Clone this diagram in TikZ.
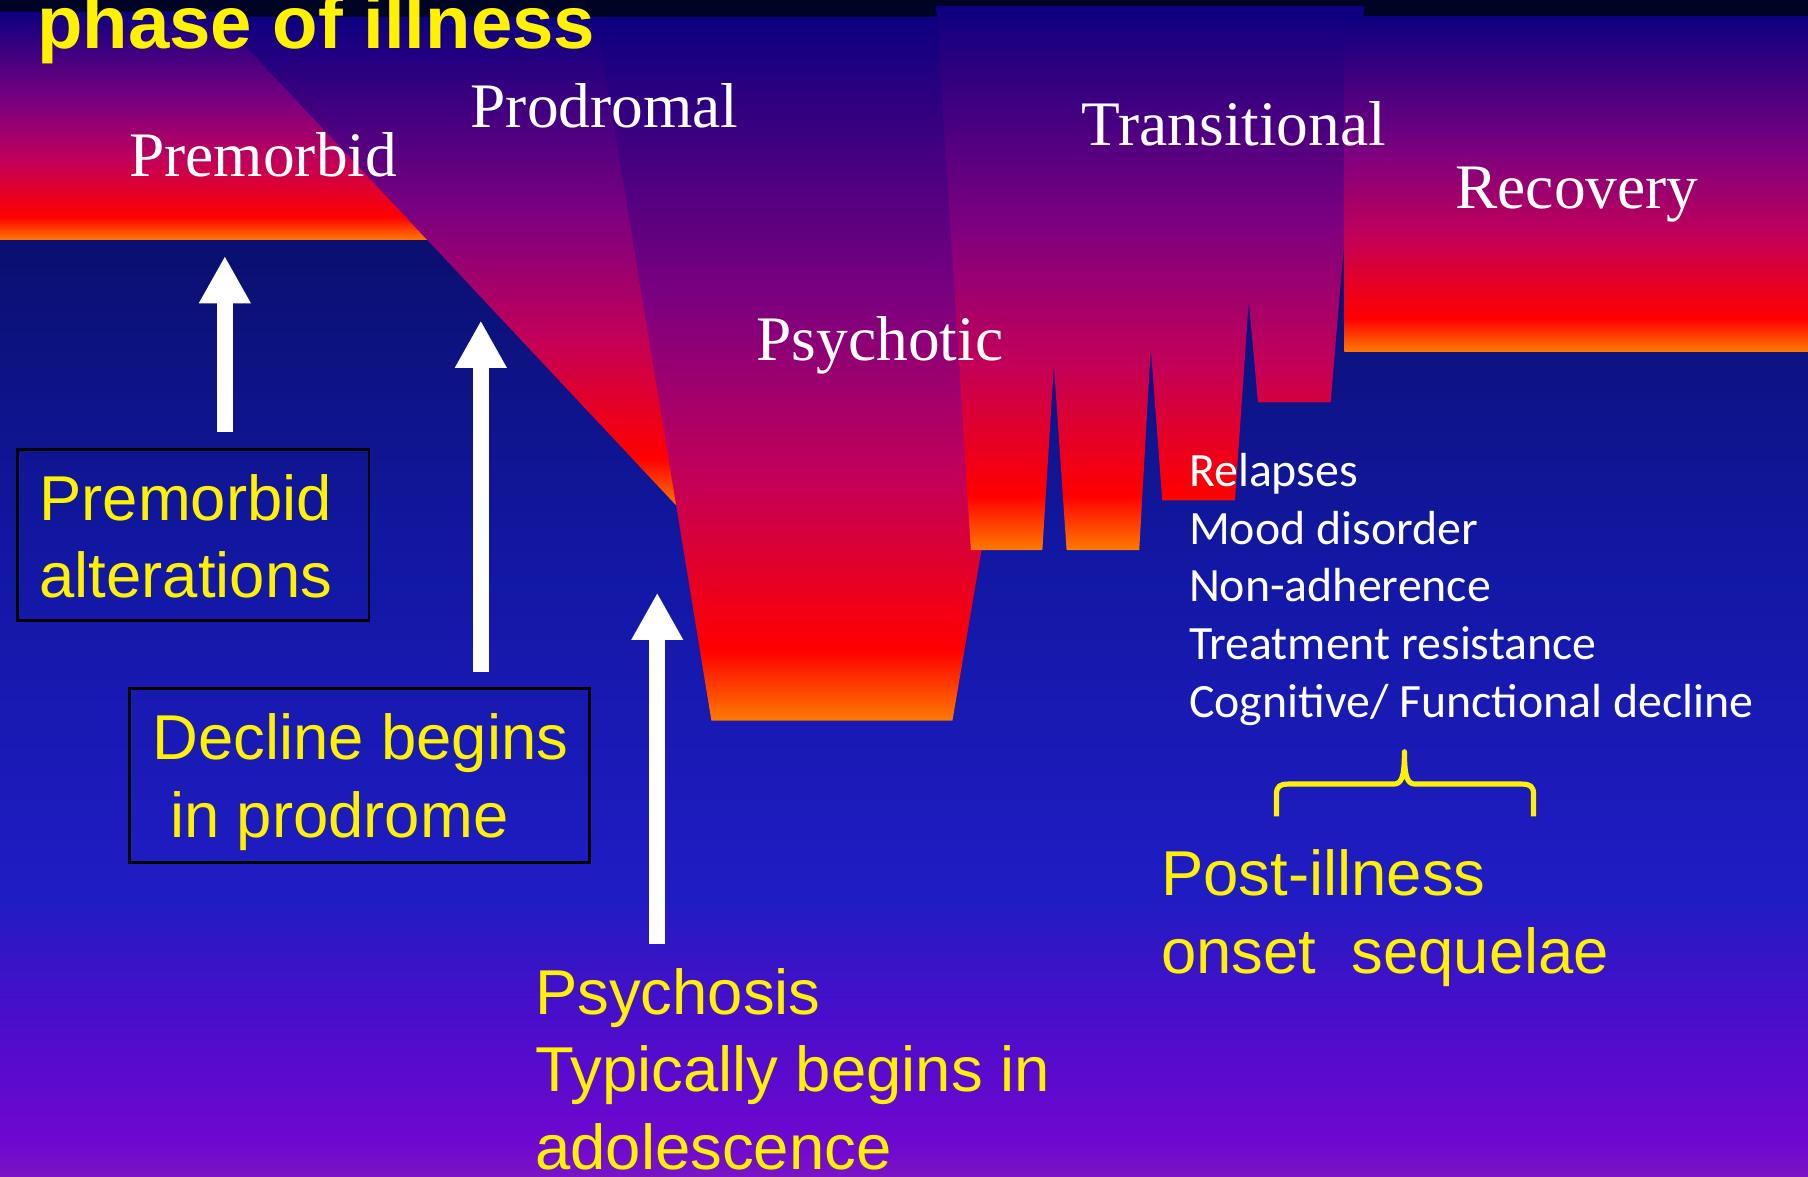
\documentclass[tikz,border=0pt]{standalone}
\usepackage{fontspec}
\setmainfont{Liberation Serif}
\newfontfamily\arialfont{Liberation Sans}
\newfontfamily\calibrifont{Carlito}
\usetikzlibrary{arrows.meta}

\definecolor{stripnavy}{RGB}{0,4,36}
\definecolor{fireorange}{RGB}{255,122,0}
\definecolor{firered}{RGB}{255,0,0}
\definecolor{firecrimson}{RGB}{196,0,88}
\definecolor{firepurple}{RGB}{124,0,128}
\definecolor{firenavy}{RGB}{12,0,128}
\definecolor{bgA}{RGB}{122,20,196}
\definecolor{bgB}{RGB}{110,8,208}
\definecolor{bgC}{RGB}{80,12,204}
\definecolor{bgD}{RGB}{50,22,198}
\definecolor{bgE}{RGB}{32,28,196}
\definecolor{bgF}{RGB}{18,24,165}
\definecolor{bgG}{RGB}{10,16,112}
\definecolor{bgH}{RGB}{6,10,96}

\pgfdeclareverticalshading{phase}{100bp}{color(0bp)=(fireorange); color(25bp)=(fireorange);
  color(30bp)=(firered); color(42bp)=(firecrimson); color(55bp)=(firepurple);
  color(75bp)=(firenavy); color(100bp)=(firenavy)}
\pgfdeclareverticalshading{backdrop}{100bp}{color(0bp)=(bgA); color(25bp)=(bgA);
  color(26.5bp)=(bgB); color(31bp)=(bgC); color(35bp)=(bgD); color(37bp)=(bgE);
  color(51bp)=(bgF); color(65bp)=(bgG); color(75bp)=(bgH); color(100bp)=(bgH)}

\tikzset{
  phaselabel/.style={anchor=base west, inner sep=0pt, text=white,
    font=\fontsize{55}{60}\selectfont},
  yellowtext/.style={anchor=base west, inner sep=0pt, align=left, text=yellow,
    font=\arialfont\fontsize{55}{67}\selectfont},
  labelbox/.style={draw=black, line width=2.5pt, inner sep=0pt},
  risearrow/.style={draw=white, line width=14pt, -{Triangle[width=42pt,length=41pt]}}
}

\begin{document}
\begin{tikzpicture}[x=1pt, y=-1pt]
\useasboundingbox (0,0) rectangle (1568,1020);
\clip (0,0) rectangle (1568,1020);

\shade[shading=backdrop] (0,14.5) rectangle (1568,1020);
\fill[stripnavy] (0,0) rectangle (1568,14.5);

\shade[shading=phase] (0,10) -- (187,10) -- (371,208) -- (0,208) -- cycle;
\shade[shading=phase] (189,14.5) -- (517,14.5) -- (588,440) -- cycle;
\shade[shading=phase] (517,14.5) -- (930,14.5) -- (826,625) -- (617,625) -- cycle;
\shade[shading=phase] (812,5) -- (1183,5) -- (1154,349) -- (1091,349) -- (1083,261)
  -- (1071,434) -- (1008,434) -- (998,302) -- (988,477) -- (925,477) -- (914,317)
  -- (904,477) -- (842,477) -- cycle;
\shade[shading=phase] (1166,14.5) rectangle (1568,305);

\node[anchor=base west, inner sep=0pt, text=yellow,
  font=\arialfont\bfseries\fontsize{64.5}{70}\selectfont] (title) at (32,42) {phase of illness};

\node[phaselabel] (premorbid) at (112,153) {Premorbid};
\node[phaselabel] (prodromal) at (408,111) {Prodromal};
\node[phaselabel] (psychotic) at (656,313) {Psychotic};
\node[phaselabel] (transitional) at (938,126) {Transitional};
\node[phaselabel] (recovery) at (1262,181) {Recovery};

\node[labelbox, minimum width=305pt, minimum height=148pt] (premorbbox) at (167.5,464) {};
\node[yellowtext] (premorbtext) at (34,518) {Premorbid\\alterations};
\node[labelbox, minimum width=399pt, minimum height=151pt] (declinebox) at (311.5,672.5) {};
\node[yellowtext] (declinetext) at (132,726) {Decline begins\\\ in prodrome};
\node[yellowtext] (onsettext) at (464,1014) {Psychosis\\Typically begins in\\adolescence};
\node[yellowtext] (posttext) at (1007,844) {Post-illness\\onset\ \ sequelae};

\node[anchor=base west, inner sep=0pt, align=left, text=white,
  font=\calibrifont\fontsize{41.5}{50}\selectfont] (sequelae) at (1031,622)
  {Relapses\\Mood disorder\\Non-adherence\\Treatment resistance\\Cognitive/ Functional decline};

\coordinate (premorbfoot) at (195,375);
\coordinate (premorbtip) at (195,222);
\coordinate (declinefoot) at (417,583);
\coordinate (declinetip) at (417,278);
\coordinate (onsetfoot) at (570,819);
\coordinate (onsettip) at (570,514);
\draw[risearrow] (premorbfoot) -- (premorbtip);
\draw[risearrow] (declinefoot) -- (declinetip);
\draw[risearrow] (onsetfoot) -- (onsettip);

\draw[yellow, line width=4.5pt, line join=round] (1107,708) -- (1107,689)
  .. controls (1107,682) and (1110,680) .. (1117,680) -- (1208,680)
  .. controls (1215,680) and (1218,676) .. (1218,652)
  .. controls (1218,676) and (1221,680) .. (1228,680) -- (1320,680)
  .. controls (1327,680) and (1330,682) .. (1330,689) -- (1330,708);

\end{tikzpicture}
\end{document}
